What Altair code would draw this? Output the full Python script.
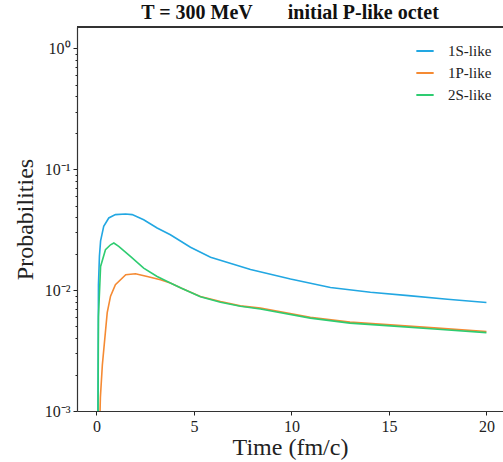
import altair as alt
import pandas as pd

# 1S-like
t_1s = [0, 0.1, 0.15, 0.21, 0.37, 0.63, 0.97, 1.49, 1.83, 2.42, 3.11, 3.79, 4.82, 5.85, 7.9, 9.95, 12.0, 14.05, 16.0, 18.0, 20.0]
p_1s = [1e-6, 0.011, 0.019, 0.0255, 0.0337, 0.0395, 0.0421, 0.0426, 0.0421, 0.0382, 0.0326, 0.0287, 0.0226, 0.0187, 0.0148, 0.01234, 0.01051, 0.0096, 0.0090, 0.0084, 0.0079]

# 1P-like
t_1p = [0, 0.1, 0.2, 0.3, 0.55, 0.72, 0.97, 1.5, 2.0, 2.6, 3.28, 3.79, 4.36, 5.33, 6.36, 7.38, 8.41, 10.97, 13.0, 15.08, 17.5, 20.0]
p_1p = [1e-6, 3e-4, 0.0013, 0.0024, 0.0065, 0.0089, 0.0111, 0.0134, 0.01365, 0.01296, 0.01217, 0.01143, 0.01035, 0.00885, 0.00805, 0.00741, 0.0071, 0.00595, 0.00543, 0.00516, 0.00485, 0.00454]

# 2S-like
t_2s = [0, 0.1, 0.21, 0.46, 0.72, 0.89, 1.14, 1.74, 2.42, 3.11, 3.79, 4.36, 5.33, 6.36, 7.38, 8.41, 10.97, 13.0, 15.08, 17.5, 20.0]
p_2s = [1e-6, 0.006, 0.0157, 0.0216, 0.0237, 0.0245, 0.0230, 0.0190, 0.0152, 0.01296, 0.01143, 0.01035, 0.0088, 0.00793, 0.00734, 0.00698, 0.00586, 0.00533, 0.00506, 0.00475, 0.00445]

series = ["1S-like", "1P-like", "2S-like"]
colors = ["#22a7e2", "#f58a33", "#2ecc71"]

x_ticks = [0, 5, 10, 15, 20]
y_ticks = [m * 10 ** e for e in (-3, -2, -1) for m in range(1, 10)] + [1]

rows = []
for name, ts, ps in zip(series, [t_1s, t_1p, t_2s], [p_1s, p_1p, p_2s]):
    for t, p in zip(ts, ps):
        rows.append({"t": t, "p": p, "series": name})
df = pd.DataFrame(rows)

serif = "Liberation Serif"
ink = "#222"
major_test = "abs(log(datum.value)/LN10 - round(log(datum.value)/LN10)) < 1e-6"
label_expr = (
    f"({major_test}) ? (round(log(datum.value)/LN10) == 0 ? '10⁰' : "
    "round(log(datum.value)/LN10) == -1 ? '10⁻¹' : "
    "round(log(datum.value)/LN10) == -2 ? '10⁻²' : '10⁻³') : ''"
)

W, H = 426, 384

lines = alt.Chart(df).mark_line(strokeWidth=1.6, clip=True).encode(
    x=alt.X("t:Q", scale=alt.Scale(domain=[-1, 20.85], nice=False, zero=False),
            axis=alt.Axis(values=x_ticks, title="Time (fm/c)", grid=False,
                          tickSize=4, labelFontSize=16, labelFont=serif,
                          titleFont=serif, titleFontSize=24, titleFontWeight="normal",
                          labelPadding=3, titlePadding=1, domain=True,
                          domainColor="#333", domainWidth=1.2,
                          tickColor=ink, labelColor=ink, titleColor=ink)),
    y=alt.Y("p:Q", scale=alt.Scale(type="log", domain=[1e-3, 1.5], nice=False),
            axis=alt.Axis(values=y_ticks, title="Probabilities", grid=False,
                          tickSize={"condition": {"test": major_test, "value": 4}, "value": 2},
                          labelExpr=label_expr, labelFontSize=16, labelFont=serif,
                          titleFont=serif, titleFontSize=24, titleFontWeight="normal",
                          labelPadding=3, titlePadding=7, domain=True,
                          domainColor="#333", domainWidth=1.2,
                          tickColor=ink, labelColor=ink, titleColor=ink)),
    color=alt.Color("series:N", sort=series,
                    scale=alt.Scale(domain=series, range=colors),
                    legend=alt.Legend(title=None, orient="none", legendX=338, legendY=14,
                                      symbolType="stroke", symbolSize=300, symbolStrokeWidth=2,
                                      labelFont=serif, labelFontSize=15, labelColor=ink,
                                      rowPadding=4, labelOffset=13, padding=0)),
)

top_spine = alt.Chart(df).mark_rule(color="#333", strokeWidth=1.2).encode(
    x=alt.value(0), x2=alt.value(W + 2), y=alt.value(0)
)

chart = alt.layer(lines, top_spine).properties(
    width=W,
    height=H,
    title=alt.TitleParams("T = 300 MeV\u00a0\u00a0\u00a0\u00a0\u00a0\u00a0\u00a0initial P-like octet",
                          font=serif, fontSize=20, fontWeight="bold", color="#111",
                          anchor="middle", offset=3),
    autosize=alt.AutoSizeParams(type="none"),
    padding={"left": 77, "top": 27, "right": 0, "bottom": 51},
).configure_view(strokeWidth=0)

chart.save("out.html", embed_options={"renderer": "svg", "actions": False})
